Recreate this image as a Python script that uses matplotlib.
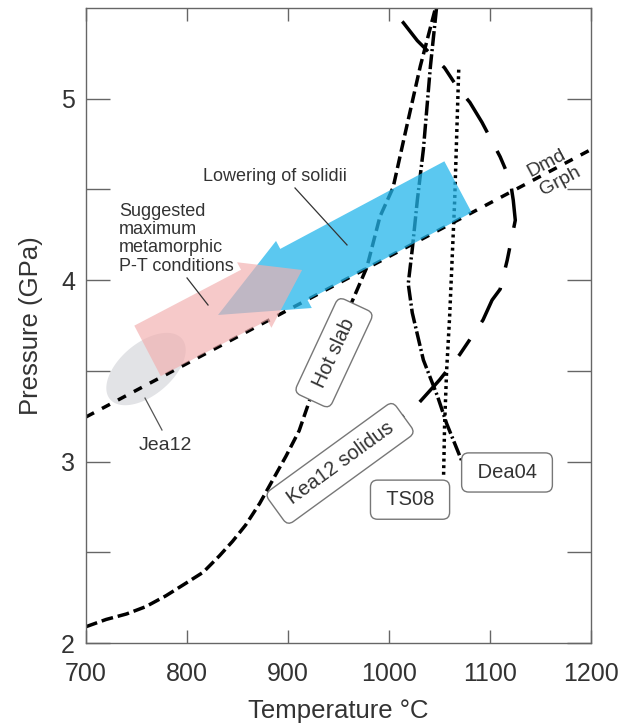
import numpy as np
import matplotlib
matplotlib.use("Agg")
import matplotlib.pyplot as plt
from matplotlib.patches import Polygon

plt.rcParams['font.family'] = ['Liberation Sans', 'DejaVu Sans']

# curves: temperature (C), pressure (GPa)
hot_slab_T = [700, 720, 740, 759, 779, 799, 816, 832, 845, 858, 872, 885, 898, 911, 924, 945,
              964, 978, 991, 1004, 1016, 1031, 1046]
hot_slab_P = [2.09, 2.13, 2.16, 2.20, 2.26, 2.33, 2.39, 2.48, 2.56, 2.65, 2.77, 2.90, 3.03, 3.17,
              3.38, 3.65, 3.89, 4.07, 4.35, 4.51, 4.81, 5.18, 5.5]

kea12_T = [951, 1011, 1029, 1050, 1070, 1093, 1102, 1110, 1117, 1125, 1123, 1120, 1110, 1092,
           1080, 1068, 1055, 1028, 1014, 999]
kea12_P = [2.99, 3.24, 3.32, 3.45, 3.59, 3.78, 3.89, 3.95, 4.11, 4.33, 4.44, 4.55, 4.68, 4.87,
           4.98, 5.06, 5.17, 5.32, 5.42, 5.5]

dea04_T = [1047, 1041, 1034, 1028, 1023, 1019, 1023, 1034, 1048, 1057, 1073]
dea04_P = [5.5, 5.18, 4.72, 4.44, 4.17, 3.98, 3.82, 3.56, 3.36, 3.21, 2.99]

ts08_T = [1069, 1065, 1060, 1057, 1055, 1054]
ts08_P = [5.16, 4.44, 3.80, 3.5, 3.2, 2.92]

dmd_grph_T = [700, 1200]
dmd_grph_P = [3.246, 4.72]

# arrows (tail, tip) and Jea12 field centre
pt_arrow = [(760.9, 3.61), (913.9, 4.056)]
solidii_arrow = [(1068.3, 4.514), (830.7, 3.808)]
jea12_centre = (759.4, 3.51)

x_ticks = [700, 800, 900, 1000, 1100, 1200]
y_ticks = [2, 2.5, 3, 3.5, 4, 4.5, 5]
y_labels = ['2', '', '3', '', '4', '', '5']

fig = plt.figure(figsize=(6.32, 7.26), dpi=100)
ax = fig.add_axes([0.1361, 0.1143, 0.7991, 0.8747])
ax.set_xlim(700, 1200)
ax.set_ylim(2, 5.5)


def to_px(T, P):
    return ax.transData.transform(np.column_stack([T, P]))


def to_data(xy):
    return ax.transData.inverted().transform(xy)


def fat_arrow(tail, tip, shaft_w, head_w, head_l):
    a, b = to_px([tail[0], tip[0]], [tail[1], tip[1]])
    d = b - a
    u = d / np.hypot(*d)
    n = np.array([-u[1], u[0]])
    base = b - u * head_l
    pts = [a + n * shaft_w / 2, base + n * shaft_w / 2, base + n * head_w / 2, b,
           base - n * head_w / 2, base - n * shaft_w / 2, a - n * shaft_w / 2]
    return to_data(np.array(pts))


def ellipse(centre, a, b, ang):
    c = to_px([centre[0]], [centre[1]])[0]
    t = np.linspace(0, 2 * np.pi, 100)
    r = np.radians(ang)
    x = a * np.cos(t) * np.cos(r) - b * np.sin(t) * np.sin(r)
    y = a * np.cos(t) * np.sin(r) + b * np.sin(t) * np.cos(r)
    return to_data(np.column_stack([c[0] + x, c[1] + y]))


ax.add_patch(Polygon(ellipse(jea12_centre, 47, 26, 40), closed=True,
                     fc='#e2e3e6', ec='none', zorder=1))

lw = 2.5
kw = dict(color='k', lw=lw, zorder=2, solid_joinstyle='round')
ax.plot(dmd_grph_T, dmd_grph_P, dashes=(2.6, 2.6), **kw)
ax.plot(hot_slab_T, hot_slab_P, dashes=(3.4, 1.4), **kw)
ax.plot(kea12_T, kea12_P, dashes=(11.4, 6, 5.7, 6), **kw)
ax.plot(dea04_T, dea04_P, dashes=(4.3, 0.9, 0.6, 0.9), **kw)
ax.plot(ts08_T, ts08_P, dashes=(0.85, 1.05), **kw)

ax.add_patch(Polygon(fat_arrow(solidii_arrow[0], solidii_arrow[1], 58, 76, 86), closed=True,
                     fc='#24b6eb', alpha=0.75, ec='none', zorder=3))
ax.add_patch(Polygon(fat_arrow(pt_arrow[0], pt_arrow[1], 57, 74, 54), closed=True,
                     fc='#f2afaf', alpha=0.67, ec='none', zorder=4))

tc = '#333333'
ax.text(887, 4.57, 'Lowering of solidii', fontsize=13, color=tc, ha='center', va='center', zorder=6)
ax.plot([906.9, 958.4], [4.508, 4.194], color='#333', lw=0.9, zorder=6)
ax.text(732.7, 4.227, 'Suggested\nmaximum\nmetamorphic\nP-T conditions', fontsize=13, color=tc,
        ha='left', va='center', linespacing=1.08, zorder=6)
ax.plot([800, 820.8], [4.012, 3.863], color='#333', lw=0.9, zorder=6)
ax.text(778.2, 3.09, 'Jea12', fontsize=14, color=tc, ha='center', va='center', zorder=6)
ax.plot([758.4, 775.2], [3.35, 3.174], color='#555', lw=0.9, zorder=6)
ax.text(1156.4, 4.646, 'Dmd', fontsize=14, color=tc, ha='center', va='center', rotation=28, zorder=6)
ax.text(1169.3, 4.547, 'Grph', fontsize=14, color=tc, ha='center', va='center', rotation=28, zorder=6)

box = dict(boxstyle='round,pad=0.5,rounding_size=0.35', fc='white', ec='#777777', lw=1.0)
ax.text(945.5, 3.60, ' Hot slab ', fontsize=14.5, color=tc, ha='center', va='center',
        rotation=65, rotation_mode='anchor', bbox=box, zorder=7)
ax.text(951.5, 2.99, ' Kea12 solidus ', fontsize=14.5, color=tc, ha='center', va='center',
        rotation=36, rotation_mode='anchor', bbox=box, zorder=7)
ax.text(1020.8, 2.79, ' TS08 ', fontsize=14.5, color=tc, ha='center', va='center', bbox=box, zorder=7)
ax.text(1116.8, 2.94, ' Dea04 ', fontsize=14.5, color=tc, ha='center', va='center', bbox=box, zorder=7)

ax.set_xticks(x_ticks)
ax.set_yticks(y_ticks)
ax.set_yticklabels(y_labels)
ax.tick_params(direction='in', top=True, right=True, color='#666666', width=1.0,
               labelcolor=tc, labelsize=18)
ax.tick_params(axis='x', length=9.5, pad=14)
ax.tick_params(axis='y', length=17, pad=8)
for s in ax.spines.values():
    s.set_color('#666666')
    s.set_linewidth(1.0)
ax.set_xlabel('Temperature °C', fontsize=18.5, color=tc, labelpad=9)
ax.set_ylabel('Pressure (GPa)', fontsize=18.5, color=tc, labelpad=13)

fig.savefig('out.png', dpi=100)
